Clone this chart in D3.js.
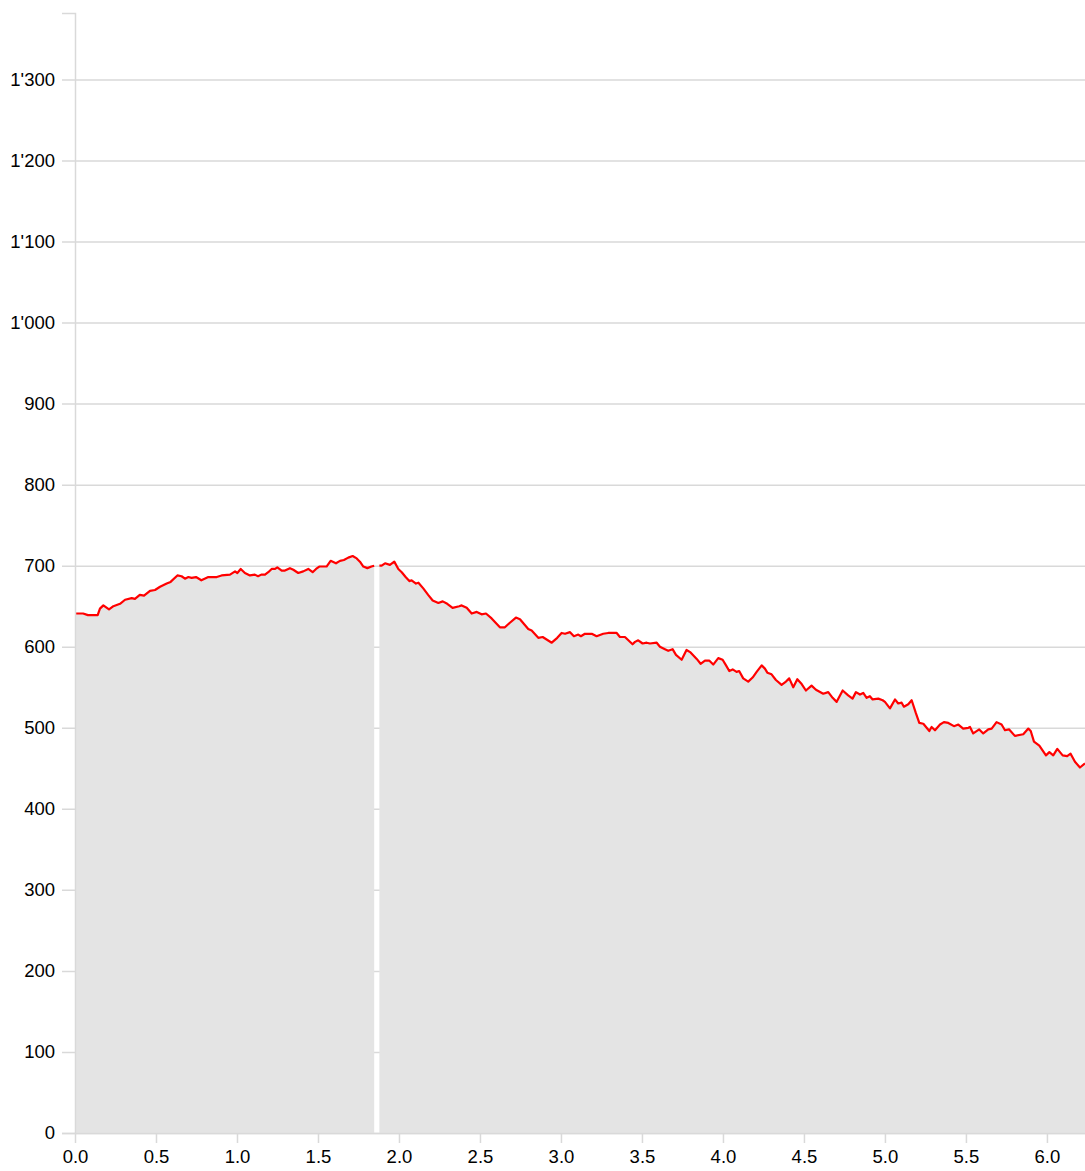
<!DOCTYPE html>
<html>
<head>
<meta charset="utf-8">
<script src="https://cdn.jsdelivr.net/npm/d3@7"></script>
<style>
  body { margin: 0; background: #fff; }
  svg text { font-family: "Liberation Sans", Arial, sans-serif; }
</style>
</head>
<body>
<div id="chart"></div>
<script>
// distance (km) and elevation (m); null marks the gap in the track
var dist = [0, 0.05, 0.08, 0.14, 0.154, 0.175, 0.21, 0.237, 0.278, 0.309, 0.35, 0.37, 0.40, 0.426, 0.463, 0.494,
  0.525, 0.566, 0.59, 0.632, 0.658, 0.679, 0.70, 0.72, 0.747, 0.78, 0.823, 0.875, 0.905, 0.957, 0.988, 1.002,
  1.023, 1.049, 1.08, 1.11, 1.13, 1.15, 1.173, 1.193, 1.214, 1.235, 1.249, 1.276, 1.296, 1.327, 1.348, 1.378,
  1.409, 1.44, 1.467, 1.488, 1.508, 1.553, 1.578, 1.611, 1.636, 1.66, 1.687, 1.714, 1.739, 1.759, 1.78, 1.805,
  1.83, 1.847, 1.863,
  1.879, 1.893, 1.914, 1.944, 1.971, 1.996, 2.017, 2.041, 2.064, 2.078, 2.105, 2.12, 2.15, 2.18, 2.208, 2.243,
  2.27, 2.298, 2.331, 2.372, 2.387, 2.418, 2.449, 2.48, 2.51, 2.537, 2.572, 2.623, 2.654, 2.681, 2.722, 2.747,
  2.798, 2.819, 2.86, 2.887, 2.943, 2.977, 3.004, 3.025, 3.056, 3.08, 3.107, 3.123, 3.148, 3.19, 3.22, 3.261,
  3.292, 3.344, 3.364, 3.395, 3.442, 3.457, 3.477, 3.504, 3.529, 3.549, 3.591, 3.611, 3.642, 3.662, 3.689, 3.71,
  3.745, 3.775, 3.80, 3.838, 3.862, 3.889, 3.915, 3.94, 3.971, 3.998, 4.019, 4.039, 4.06, 4.084, 4.10, 4.125,
  4.156, 4.183, 4.208, 4.239, 4.259, 4.274, 4.30, 4.327, 4.362, 4.389, 4.409, 4.434, 4.459, 4.486, 4.512, 4.547,
  4.574, 4.619, 4.65, 4.677, 4.702, 4.739, 4.773, 4.80, 4.821, 4.846, 4.866, 4.887, 4.907, 4.924, 4.959, 4.986,
  5.0, 5.031, 5.062, 5.082, 5.103, 5.117, 5.144, 5.165, 5.191, 5.212, 5.237, 5.274, 5.288, 5.309, 5.34, 5.364,
  5.391, 5.426, 5.453, 5.483, 5.515, 5.525, 5.545, 5.582, 5.607, 5.638, 5.659, 5.689, 5.72, 5.741, 5.767, 5.802,
  5.854, 5.885, 5.90, 5.92, 5.953, 5.994, 6.015, 6.039, 6.064, 6.097, 6.125, 6.146, 6.173, 6.204, 6.235];

var elev = [641, 641, 639, 639, 647, 651, 646, 650, 653, 658, 660, 659, 664, 663, 669, 670,
  674, 678, 680, 688, 687, 684, 686, 685, 686, 682, 686, 686, 688, 689, 693, 691,
  696, 691, 688, 689, 687, 689, 689, 692, 696, 696, 698, 694, 694, 697, 695, 691,
  693, 696, 692, 696, 699, 699, 706, 703, 706, 707, 710, 712, 709, 705, 699, 697,
  699, 700, null,
  700, 700, 703, 701, 705, 696, 692, 686, 681, 682, 678, 679, 672, 664, 657, 654,
  656, 653, 648, 650, 651, 648, 641, 643, 640, 641, 635, 624, 624, 629, 636, 634,
  622, 620, 611, 612, 605, 611, 617, 616, 618, 613, 615, 613, 616, 616, 613, 616,
  617, 617, 612, 612, 603, 606, 608, 604, 605, 604, 605, 600, 597, 595, 597, 590,
  584, 596, 593, 585, 579, 583, 583, 578, 586, 584, 577, 570, 572, 569, 570, 561,
  557, 562, 569, 577, 573, 568, 566, 559, 553, 557, 561, 550, 560, 554, 546, 552,
  547, 542, 544, 537, 532, 546, 540, 536, 544, 541, 543, 537, 539, 535, 536, 534,
  532, 524, 535, 530, 531, 526, 529, 534, 518, 506, 505, 496, 501, 497, 504, 507,
  506, 502, 504, 499, 500, 501, 493, 498, 493, 498, 499, 507, 504, 497, 498, 490,
  492, 499, 496, 483, 478, 466, 470, 466, 474, 466, 465, 468, 458, 451, 456];

var yTicks = [0, 100, 200, 300, 400, 500, 600, 700, 800, 900, 1000, 1100, 1200, 1300];
var xTicks = [0, 0.5, 1, 1.5, 2, 2.5, 3, 3.5, 4, 4.5, 5, 5.5, 6];

var W = 1085, H = 1171;
var margin = {top: 13, right: 0, bottom: 38, left: 75};
var width = W - margin.left - margin.right;
var height = H - margin.top - margin.bottom;

var data = dist.map(function(d, i) { return {d: d, e: elev[i]}; });

var x = d3.scaleLinear().domain([0, 6.235]).range([0, width]);
var y = d3.scaleLinear().domain([0, 1382]).range([height, 0]);

var locale = d3.formatLocale({decimal: ".", thousands: "'", grouping: [3], currency: ["", ""]});
var fmtY = locale.format(",d");

var svg = d3.select("#chart").append("svg")
    .attr("width", W)
    .attr("height", H);
var g = svg.append("g")
    .attr("transform", "translate(" + margin.left + "," + margin.top + ")");

// y axis with gridlines
var yAxis = g.append("g")
    .call(d3.axisLeft(y).tickValues(yTicks).tickFormat(fmtY).tickSizeInner(13).tickSizeOuter(0).tickPadding(7));
yAxis.select(".domain").remove();
yAxis.selectAll(".tick line")
    .attr("x1", width)
    .attr("x2", -13)
    .attr("stroke", "#d9d9d9")
    .attr("stroke-width", 1.5);
yAxis.selectAll(".tick text")
    .attr("fill", "#000")
    .style("font-size", "18.5px");

var area = d3.area()
    .defined(function(d) { return d.e !== null; })
    .x(function(d) { return x(d.d); })
    .y0(y(0))
    .y1(function(d) { return y(d.e); });

var line = d3.line()
    .defined(function(d) { return d.e !== null; })
    .x(function(d) { return x(d.d); })
    .y(function(d) { return y(d.e); });

g.append("path")
    .datum(data)
    .attr("d", area)
    .attr("fill", "#e4e4e4");

g.append("path")
    .datum(data)
    .attr("d", line)
    .attr("fill", "none")
    .attr("stroke", "#ff0000")
    .attr("stroke-width", 2.2)
    .attr("stroke-linejoin", "round");

// y domain line drawn on top of the area
var yDom = g.append("g")
    .call(d3.axisLeft(y).tickValues([]).tickSizeOuter(13));
yDom.select(".domain")
    .attr("stroke", "#d9d9d9")
    .attr("stroke-width", 1.5);

// x axis
var xAxis = g.append("g")
    .attr("transform", "translate(0," + height + ")")
    .call(d3.axisBottom(x).tickValues(xTicks).tickFormat(d3.format(".1f")).tickSizeInner(10).tickSizeOuter(0).tickPadding(7));
xAxis.select(".domain")
    .attr("stroke", "#d9d9d9")
    .attr("stroke-width", 1.5);
xAxis.selectAll(".tick line")
    .attr("stroke", "#d9d9d9")
    .attr("stroke-width", 1.5);
xAxis.selectAll(".tick text")
    .attr("fill", "#000")
    .style("font-size", "18.5px");
</script>
</body>
</html>
